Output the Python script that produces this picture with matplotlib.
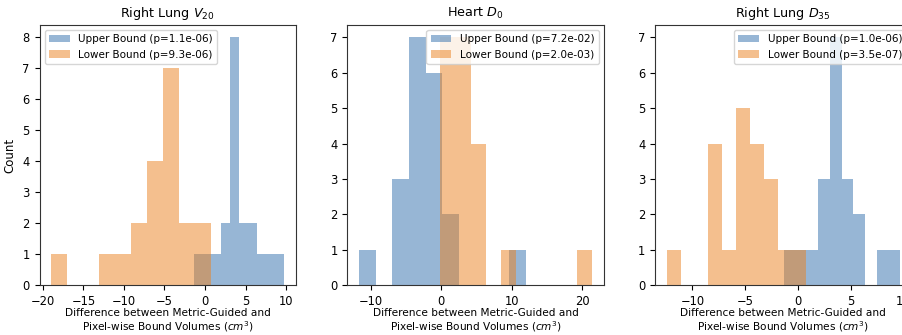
import numpy as np
import matplotlib
matplotlib.use("Agg")
import matplotlib.pyplot as plt

plt.rcParams['font.family'] = ['DejaVu Sans']
plt.rcParams['mathtext.fontset'] = 'dejavusans'

titles = ["Right Lung $V_{20}$", "Heart $D_0$", "Right Lung $D_{35}$"]
upper_labels = ["Upper Bound (p=1.1e-06)", "Upper Bound (p=7.2e-02)", "Upper Bound (p=1.0e-06)"]
lower_labels = ["Lower Bound (p=9.3e-06)", "Lower Bound (p=2.0e-03)", "Lower Bound (p=3.5e-07)"]

# histogram counts per bin (10 bins each) and bin ranges (min, max)
upper_counts_v20 = [1, 1, 1, 2, 8, 2, 2, 1, 1, 1]
upper_range_v20 = (-1.34, 9.79)
lower_counts_v20 = [1, 0, 0, 1, 1, 2, 4, 7, 2, 2]
lower_range_v20 = (-18.98, 0.75)

upper_counts_d0 = [1, 0, 3, 7, 6, 2, 0, 0, 0, 1]
upper_range_d0 = (-11.71, 12.03)
lower_counts_d0 = [7, 7, 4, 0, 1, 0, 0, 0, 0, 1]
lower_range_d0 = (-0.12, 21.44)

upper_counts_d35 = [1, 1, 1, 3, 7, 3, 2, 0, 1, 1]
upper_range_d35 = (-1.37, 9.66)
lower_counts_d35 = [1, 0, 0, 4, 1, 5, 4, 3, 1, 1]
lower_range_d35 = (-12.45, 0.76)

panels = [
    (upper_counts_v20, upper_range_v20, lower_counts_v20, lower_range_v20),
    (upper_counts_d0, upper_range_d0, lower_counts_d0, lower_range_d0),
    (upper_counts_d35, upper_range_d35, lower_counts_d35, lower_range_d35),
]
legend_locs = ["upper left", "upper right", "upper right"]

W, H = 902, 335
fig = plt.figure(figsize=(W / 100, H / 100), dpi=100)
lefts = [39.5, 347.3, 655.0]
axw = 256.5
bottom = 50.0
axh = 260.0

xlabel = "Difference between Metric-Guided and\nPixel-wise Bound Volumes ($cm^3$)"

for i, (uc, ur, lc, lr) in enumerate(panels):
    ax = fig.add_axes([lefts[i] / W, bottom / H, axw / W, axh / H])
    ue = np.linspace(ur[0], ur[1], len(uc) + 1)
    le = np.linspace(lr[0], lr[1], len(lc) + 1)
    ax.hist((ue[:-1] + ue[1:]) / 2, bins=ue, weights=uc, alpha=0.5,
            color='#316fad', label=upper_labels[i])
    ax.hist((le[:-1] + le[1:]) / 2, bins=le, weights=lc, alpha=0.5,
            color='#eb811f', label=lower_labels[i])
    ax.set_title(titles[i], fontsize=9.2)
    ax.set_xlabel(xlabel, fontsize=7.6, labelpad=0, linespacing=1.15)
    if i == 0:
        ax.set_ylabel("Count", fontsize=8.5)
    ax.tick_params(labelsize=8.3)
    for s in ax.spines.values():
        s.set_color('#333333')
    ax.legend(loc=legend_locs[i], fontsize=7.5)

fig.savefig("out.png", dpi=100)
